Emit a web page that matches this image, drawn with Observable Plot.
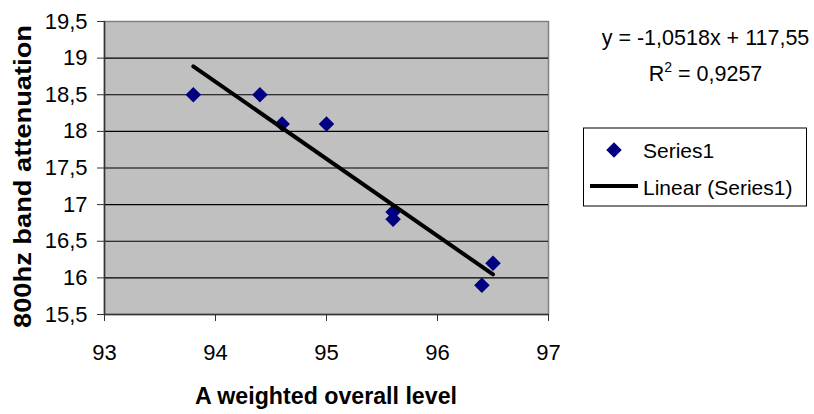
<!DOCTYPE html>
<html><head><meta charset="utf-8">
<script src="https://cdn.jsdelivr.net/npm/d3@7"></script>
<script src="https://cdn.jsdelivr.net/npm/@observablehq/plot@0.6"></script>
<style>body{margin:0;background:#fff} #chart{width:814px;height:414px}</style>
</head><body><div id="chart"></div>
<script>
const xValues = [93.8, 94.4, 94.6, 95.0, 95.6, 95.6, 96.4, 96.5];
const yValues = [18.5, 18.5, 18.1, 18.1, 16.9, 16.8, 15.9, 16.2];
const xTicks = [93, 94, 95, 96, 97];
const yTicks = [15.5, 16, 16.5, 17, 17.5, 18, 18.5, 19, 19.5];
const seriesName = "Series1";
const trendName = "Linear (Series1)";
const equationText = "y = -1,0518x + 117,55";
const r2Value = "0,9257";
const xTitle = "A weighted overall level";
const yTitle = "800hz band attenuation";

const data = xValues.map((x, i) => ({x, y: yValues[i]}));
const fmt = d => String(d).replace(".", ",");
const font = "'Liberation Sans', Arial, sans-serif";

const plot = Plot.plot({
  width: 814, height: 414,
  marginLeft: 104, marginRight: 266, marginTop: 21, marginBottom: 100,
  style: {fontFamily: font, fontSize: "22px", color: "#000", background: "#fff", overflow: "visible"},
  x: {domain: [93, 97], label: null},
  y: {domain: [15.5, 19.5], label: null},
  marks: [
    Plot.frame({fill: "#c0c0c0", stroke: "#808080", strokeWidth: 1.5}),
    Plot.gridY(yTicks.slice(1, -1), {stroke: "#000", strokeOpacity: 1, strokeWidth: 1.2}),
    Plot.axisY({ticks: yTicks, tickFormat: fmt, tickSize: 7, tickPadding: 10, label: null, fontSize: 22, stroke: "#333"}),
    Plot.axisX({ticks: xTicks, tickFormat: fmt, tickSize: 7, tickPadding: 23, label: null, fontSize: 22, stroke: "#333"}),
    Plot.ruleX([93], {stroke: "#333", strokeWidth: 1.5}),
    Plot.ruleY([15.5], {stroke: "#333", strokeWidth: 1.5}),
    Plot.dot(data, {x: "x", y: "y", symbol: "diamond2", r: 7, fill: "#000080", stroke: "none"}),
    Plot.linearRegressionY(data, {x: "x", y: "y", stroke: "#000", strokeWidth: 4, ci: 0})
  ]
});
document.getElementById("chart").appendChild(plot);

const svg = d3.select(plot);
svg.selectAll('g[aria-label="y-axis tick label"] text, g[aria-label="x-axis tick label"] text')
  .style("font-size", "22px");

const g = svg.append("g").attr("font-family", font).attr("fill", "#000").attr("text-anchor", "start");

// axis titles
g.append("text").attr("x", 326).attr("y", 404).attr("text-anchor", "middle")
  .attr("font-size", 23).attr("font-weight", "bold")
  .attr("textLength", 262).attr("lengthAdjust", "spacingAndGlyphs").text(xTitle);
g.append("text").attr("transform", "translate(31,176.5) rotate(-90)").attr("text-anchor", "middle")
  .attr("font-size", 23).attr("font-weight", "bold")
  .attr("textLength", 303).attr("lengthAdjust", "spacingAndGlyphs").text(yTitle);

// trendline equation
g.append("text").attr("x", 705.5).attr("y", 45).attr("text-anchor", "middle")
  .attr("font-size", 21.5).text(equationText);
const r2 = g.append("text").attr("x", 705.5).attr("y", 81).attr("text-anchor", "middle").attr("font-size", 21.5);
r2.append("tspan").text("R");
r2.append("tspan").attr("font-size", 14).attr("dy", -9).text("2");
r2.append("tspan").attr("dy", 9).text(" = " + r2Value);

// legend
const lg = g.append("g");
lg.append("rect").attr("x", 583.5).attr("y", 128).attr("width", 223).attr("height", 78)
  .attr("fill", "#fff").attr("stroke", "#000").attr("stroke-width", 1);
lg.append("path").attr("transform", "translate(614,150)")
  .attr("d", d3.symbol(d3.symbolDiamond2, Math.PI * 7 * 7)()).attr("fill", "#000080");
lg.append("text").attr("x", 643).attr("y", 158).attr("text-anchor", "start").attr("font-size", 21).text(seriesName);
lg.append("line").attr("x1", 590).attr("x2", 638).attr("y1", 186).attr("y2", 186)
  .attr("stroke", "#000").attr("stroke-width", 4);
lg.append("text").attr("x", 643).attr("y", 195).attr("text-anchor", "start").attr("font-size", 21).text(trendName);
</script>
</body></html>
